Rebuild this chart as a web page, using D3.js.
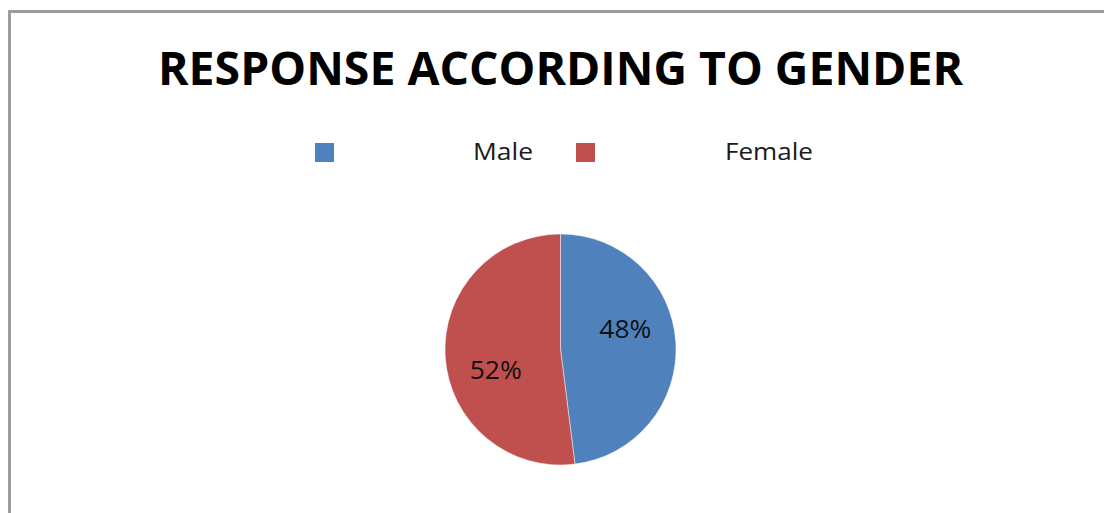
<!DOCTYPE html>
<html>
<head>
<meta charset="utf-8">
<script src="https://cdn.jsdelivr.net/npm/d3@7"></script>
<style>
  html, body { margin: 0; padding: 0; background: #ffffff; }
  svg { display: block; }
  text { font-family: "Open Sans", "Noto Sans", sans-serif; }
</style>
</head>
<body>
<svg id="chart" width="1104" height="513"></svg>
<script>
// Survey responses by gender
const categories = ["Male", "Female"];
const shares = [48, 52];
const colors = ["#4F81BD", "#C0504D"];
const chartTitle = "RESPONSE ACCORDING TO GENDER";

const svg = d3.select("#chart");

// chart frame
svg.append("rect")
  .attr("x", 9.5).attr("y", 11.5)
  .attr("width", 1200).attr("height", 600)
  .attr("fill", "#ffffff")
  .attr("stroke", "#9c9c9c")
  .attr("stroke-width", 3);

// title
svg.append("text")
  .attr("x", 158).attr("y", 85)
  .attr("font-size", 46)
  .attr("font-weight", 700)
  .attr("fill", "#000000")
  .attr("textLength", 805)
  .attr("lengthAdjust", "spacingAndGlyphs")
  .text(chartTitle);

// legend
const legendX = d3.scalePoint().domain(categories).range([315, 576]);
const legendTextX = d3.scalePoint().domain(categories).range([473, 725]);
const legendWidths = { Male: 60, Female: 88 };
const color = d3.scaleOrdinal().domain(categories).range(colors);

const legend = svg.append("g");
legend.selectAll("rect")
  .data(categories)
  .enter().append("rect")
  .attr("x", d => legendX(d)).attr("y", 143)
  .attr("width", 19).attr("height", 19)
  .attr("fill", d => color(d));
legend.selectAll("text")
  .data(categories)
  .enter().append("text")
  .attr("x", d => legendTextX(d)).attr("y", 160)
  .attr("font-size", 24)
  .attr("fill", "#1a1a1a")
  .attr("textLength", d => legendWidths[d])
  .attr("lengthAdjust", "spacingAndGlyphs")
  .text(d => d);

// pie
const cx = 560.5, cy = 349.5, R = 115.5;
const data = categories.map((c, i) => ({ name: c, value: shares[i] }));
const pie = d3.pie().sort(null).value(d => d.value);
const arcs = pie(data);
const arc = d3.arc().innerRadius(0).outerRadius(R);

const g = svg.append("g").attr("transform", `translate(${cx},${cy})`);
g.selectAll("path")
  .data(arcs)
  .enter().append("path")
  .attr("d", arc)
  .attr("fill", d => color(d.data.name))
  .attr("stroke", "rgba(255,255,255,0.45)")
  .attr("stroke-width", 1);

// percentage labels, placed slightly counter-clockwise of each slice middle
const shift = -14 * Math.PI / 180;
const labelArc = d3.arc().innerRadius(68).outerRadius(68);
g.selectAll("text")
  .data(arcs)
  .enter().append("text")
  .attr("transform", d => {
    const [x, y] = labelArc.centroid({ startAngle: d.startAngle + shift, endAngle: d.endAngle + shift });
    return `translate(${x},${y})`;
  })
  .attr("text-anchor", "middle")
  .attr("dy", "0.36em")
  .attr("font-size", 25)
  .attr("fill", "#111111")
  .attr("textLength", 52)
  .attr("lengthAdjust", "spacingAndGlyphs")
  .text(d => d.data.value + "%");
</script>
</body>
</html>
